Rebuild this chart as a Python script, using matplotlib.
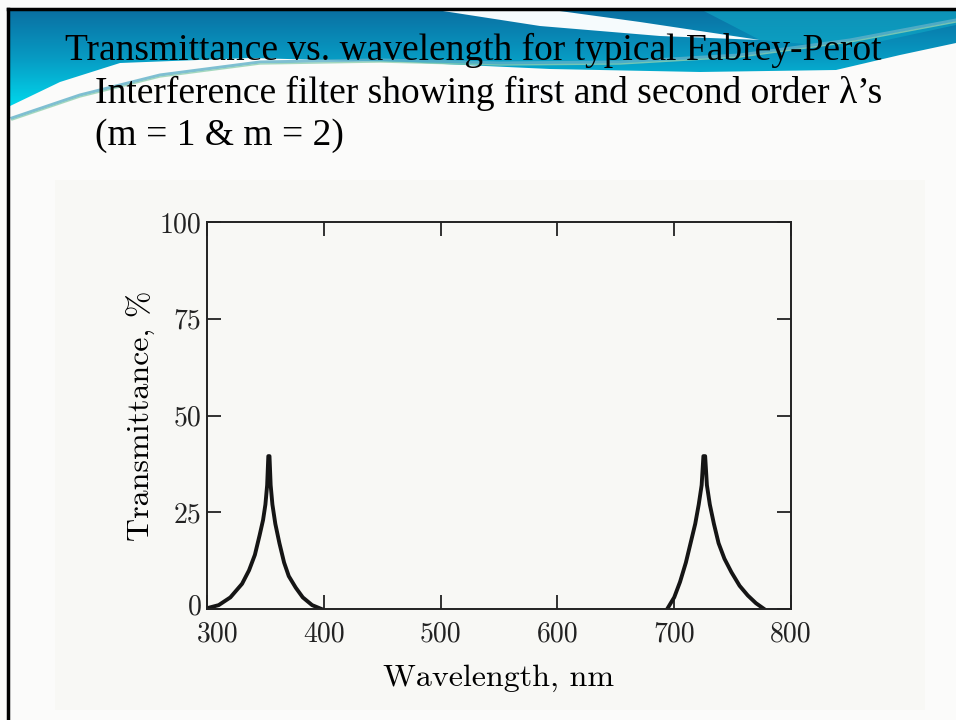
import numpy as np
import matplotlib
matplotlib.use("Agg")
import matplotlib.pyplot as plt
import matplotlib.transforms as mtrans
from matplotlib.patches import Polygon, Rectangle

# ---- data ----
# first order peak (m = 1)
wl_m1 = [300, 310, 320, 330, 336, 341, 345, 348, 350, 351.5, 352.5,
         353.5, 354.5, 356, 358.5, 362, 366, 370, 376, 382, 390, 398]
tr_m1 = [0.2, 1, 3, 6.5, 10, 14, 19, 23, 27, 32, 39.5,
         39.5, 32, 27, 22, 17, 12, 8.5, 5.5, 3, 1, 0]
# second order peak (m = 2)
wl_m2 = [694, 700, 705, 710, 714, 718, 721, 723.5, 725,
         726.5, 728, 730.5, 734, 738, 743, 749, 756, 763, 770, 777]
tr_m2 = [0, 3, 7, 12, 17, 22, 27, 32, 39.5,
         39.5, 32, 27, 22, 17, 13, 9.5, 6, 3.5, 1.5, 0]

xticks = [300, 400, 500, 600, 700, 800]
yticks = [0, 25, 50, 75, 100]

title_lines = ["Transmittance vs. wavelength for typical Fabrey-Perot",
               "Interference filter showing first and second order \u03bb\u2019s",
               "(m = 1 & m = 2)"]

W, H = 956, 720
fig = plt.figure(figsize=(W / 100, H / 100), dpi=100)
fig.patch.set_facecolor("#fbfbfa")

# slide decoration layer in pixel coords
bg = fig.add_axes([0, 0, 1, 1])
bg.set_xlim(0, W)
bg.set_ylim(H, 0)
bg.axis("off")

# blue header with gradient
hdr = [(8, 9), (956, 9), (956, 43), (900, 55), (836, 70), (700, 72),
       (550, 69), (400, 62), (250, 58), (120, 63), (60, 82), (8, 107)]
poly = Polygon(hdr, closed=True, facecolor="none", edgecolor="none")
bg.add_patch(poly)
grad = np.linspace(0, 1, 256).reshape(-1, 1)
cmap = matplotlib.colors.LinearSegmentedColormap.from_list(
    "hdr", ["#0a6fa2", "#079cc4", "#00dcef"])
im = bg.imshow(grad, cmap=cmap, extent=(0, W, 110, 9), aspect="auto",
               zorder=1)
im.set_clip_path(poly)

# white swoosh
sw = [(430, 9), (545, 9), (640, 22), (760, 40), (660, 36), (540, 26)]
bg.add_patch(Polygon(sw, closed=True, facecolor="#f6fbfd",
                     edgecolor="none", zorder=2))
# teal band on the right
tb = [(700, 9), (956, 9), (956, 25), (850, 48), (760, 40)]
bg.add_patch(Polygon(tb, closed=True, facecolor="#10a9c6",
                     edgecolor="none", alpha=0.6, zorder=2))

# thin decorative wave line
wx = [12, 80, 160, 260, 380, 500, 620, 740, 850, 956]
wy = [118, 95, 75, 62, 60, 63, 62, 55, 40, 20]
bg.plot(wx, wy, color="#5fb0c8", lw=2.2, alpha=0.8, zorder=3)
bg.plot(wx, [v + 2 for v in wy], color="#8fd0b0", lw=1.0, alpha=0.8, zorder=3)

# black slide border (top and left)
bg.plot([8, 956], [9, 9], color="black", lw=2.5, zorder=4)
bg.plot([8, 8], [9, 720], color="black", lw=2.5, zorder=4)

# scanned figure area
bg.add_patch(Rectangle((55, 180), 870, 530, facecolor="#f8f8f5",
                       edgecolor="none", zorder=0.5))

# title
tkw = dict(fontsize=27, family="Liberation Serif", va="baseline",
           ha="left", zorder=5)
bg.text(65, 60, title_lines[0], **tkw)
bg.text(95, 103, title_lines[1], **tkw)
bg.text(95, 145, title_lines[2], **tkw)

# ---- the chart ----
ax = fig.add_axes([207 / W, 1 - 609 / H, (791 - 207) / W, (609 - 222) / H])
ax.set_facecolor("none")
ax.plot(wl_m1, tr_m1, color="#151515", lw=2.8, solid_joinstyle="round")
ax.plot(wl_m2, tr_m2, color="#151515", lw=2.8, solid_joinstyle="round")
ax.set_xlim(300, 800)
ax.set_ylim(0, 100)
ax.set_xticks(xticks)
ax.set_yticks(yticks)
ax.set_xticklabels([str(v) for v in xticks], family="cmr10", fontsize=20)
ax.set_yticklabels([str(v) for v in yticks], family="cmr10", fontsize=20)
ax.tick_params(direction="in", length=10, width=1.3, top=True, right=True,
               colors="#222222")
ax.tick_params(axis="x", pad=9)
ax.tick_params(axis="y", pad=4)
for s in ax.spines.values():
    s.set_linewidth(1.4)
    s.set_color("#222222")

# the corner labels sit a little apart in the original
lab300 = ax.get_xticklabels()[0]
lab300.set_transform(lab300.get_transform() +
                     mtrans.ScaledTranslation(0.11, 0, fig.dpi_scale_trans))
lab0 = ax.get_yticklabels()[0]
lab0.set_transform(lab0.get_transform() +
                   mtrans.ScaledTranslation(0, 0.05, fig.dpi_scale_trans))

ax.set_xlabel("Wavelength, nm", family="cmr10", fontsize=23, labelpad=12)
ax.set_ylabel("Transmittance, %", family="cmr10", fontsize=23, labelpad=3)

fig.savefig("out.png", dpi=100, facecolor=fig.get_facecolor())
